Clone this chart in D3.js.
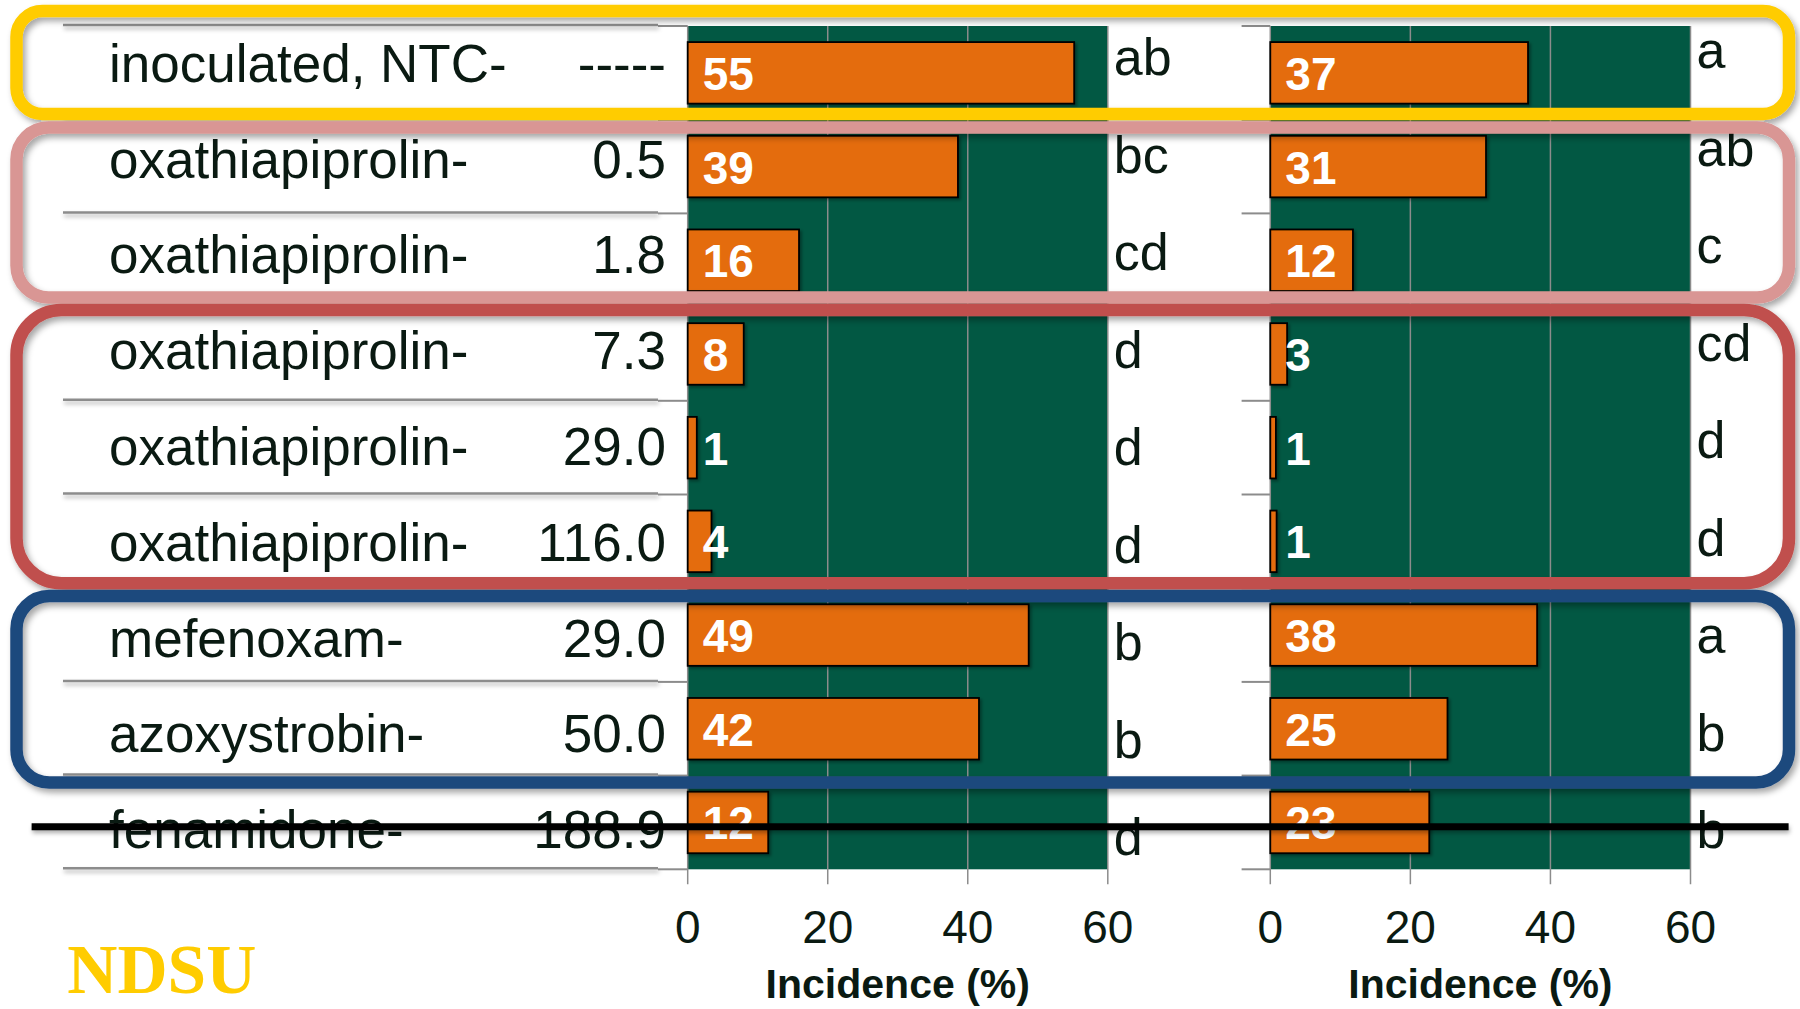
<!DOCTYPE html>
<html>
<head>
<meta charset="utf-8">
<script src="https://cdn.jsdelivr.net/npm/d3@7"></script>
<style>
  html, body { margin: 0; padding: 0; background: #ffffff; }
  svg { display: block; }
  text { font-family: "Liberation Sans", Arial, sans-serif; }
</style>
</head>
<body>
<script>
// ---------- data ----------
const categories = ["inoculated, NTC-", "oxathiapiprolin-", "oxathiapiprolin-", "oxathiapiprolin-",
  "oxathiapiprolin-", "oxathiapiprolin-", "mefenoxam-", "azoxystrobin-", "fenamidone-"];
const doses = ["-----", "0.5", "1.8", "7.3", "29.0", "116.0", "29.0", "50.0", "188.9"];

const incidenceA = [55.2, 38.6, 15.9, 8.0, 1.3, 3.4, 48.7, 41.6, 11.5];
const valueLabelsA = ["55", "39", "16", "8", "1", "4", "49", "42", "12"];
const lettersA = ["ab", "bc", "cd", "d", "d", "d", "b", "b", "d"];

const incidenceB = [36.8, 30.8, 11.8, 2.4, 0.8, 0.9, 38.1, 25.3, 22.7];
const valueLabelsB = ["37", "31", "12", "3", "1", "1", "38", "25", "23"];
const lettersB = ["a", "ab", "c", "cd", "d", "d", "a", "b", "b"];

const xTicks = [0, 20, 40, 60];
const axisTitle = "Incidence (%)";

// group boxes: first/last row index
const groups = [
  { first: 0, last: 0, color: "#FFCC00" },
  { first: 1, last: 2, color: "#D99694" },
  { first: 3, last: 5, color: "#C0504D" },
  { first: 6, last: 7, color: "#1F497D" }
];

// ---------- layout ----------
const W = 1800, H = 1009;
const plotTop = 26, plotBottom = 869.3;
const GREEN = "#025843", ORANGE = "#E46C0A", GRID = "#8c8c8c", INK = "#0a1a12";

const svg = d3.select("body").append("svg").attr("width", W).attr("height", H);
const defs = svg.append("defs");
function shadowFilter(id, dx, dy, sd, op) {
  const f = defs.append("filter").attr("id", id).attr("filterUnits", "userSpaceOnUse")
    .attr("x", 0).attr("y", 0).attr("width", W).attr("height", H);
  f.append("feDropShadow").attr("dx", dx).attr("dy", dy).attr("stdDeviation", sd)
    .attr("flood-color", "#000").attr("flood-opacity", op);
}
shadowFilter("boxShadow", 3, 4, 3, 0.35);
shadowFilter("lineShadow", 1, 3, 2, 0.3);
shadowFilter("barShadow", 2, 2, 1.5, 0.35);

svg.append("rect").attr("width", W).attr("height", H).attr("fill", "#fff");

const idx = d3.range(categories.length);
const y = d3.scaleBand().domain(idx).range([plotTop, plotBottom]).paddingInner(0.343).paddingOuter(0.1715);
const rowStep = y.step();
const rowEdge = i => plotTop + i * rowStep;           // boundary positions
const labelY = d3.scalePoint().domain(idx).range([81.7, 848.3]);   // text baselines
const letterYA = d3.scalePoint().domain(idx).range([75, 855]);
const letterYB = d3.scalePoint().domain(idx).range([68.3, 848.3]);

const xA = d3.scaleLinear().domain([0, 60]).range([687.7, 1107.8]);
const xB = d3.scaleLinear().domain([0, 60]).range([1270.3, 1690.5]);

const panels = [
  { x: xA, vals: incidenceA, vlabels: valueLabelsA, letters: lettersA, letterY: letterYA, tickLeft: 658 },
  { x: xB, vals: incidenceB, vlabels: valueLabelsB, letters: lettersB, letterY: letterYB, tickLeft: 1241.6 }
];

// ruled lines in label area (row boundaries)
const ruled = svg.append("g").attr("filter", "url(#lineShadow)");
d3.range(categories.length + 1).forEach(i => {
  ruled.append("line").attr("x1", 63).attr("x2", 658)
    .attr("y1", rowEdge(i) - 1).attr("y2", rowEdge(i) - 1)
    .attr("stroke", GRID).attr("stroke-width", 2.5);
});

panels.forEach(p => {
  const g = svg.append("g");
  // plot background
  g.append("rect").attr("x", p.x(0)).attr("y", plotTop)
    .attr("width", p.x(60) - p.x(0)).attr("height", plotBottom - plotTop).attr("fill", GREEN);
  // gridlines + tick marks
  g.selectAll("line.grid").data(xTicks).join("line")
    .attr("x1", d => p.x(d)).attr("x2", d => p.x(d))
    .attr("y1", plotTop).attr("y2", plotBottom + 15)
    .attr("stroke", GRID).attr("stroke-width", 1.5);
  // category ticks
  g.selectAll("line.ytick").data(d3.range(categories.length + 1)).join("line")
    .attr("x1", p.tickLeft).attr("x2", p.x(0))
    .attr("y1", d => rowEdge(d)).attr("y2", d => rowEdge(d))
    .attr("stroke", GRID).attr("stroke-width", 2);
  // bars
  g.append("g").attr("filter", "url(#barShadow)").selectAll("rect").data(p.vals).join("rect")
    .attr("x", p.x(0)).attr("y", (d, i) => y(i))
    .attr("width", d => p.x(d) - p.x(0)).attr("height", y.bandwidth())
    .attr("fill", ORANGE).attr("stroke", "#000").attr("stroke-width", 1.8);
  // value labels
  g.selectAll("text.val").data(p.vlabels).join("text")
    .attr("x", p.x(0) + 15).attr("y", (d, i) => y(i) + y.bandwidth() / 2 + 17)
    .attr("fill", "#fff").attr("font-weight", "bold").attr("font-size", 46)
    .text(d => d);
  // letters
  g.selectAll("text.let").data(p.letters).join("text")
    .attr("x", p.x(60) + 6).attr("y", (d, i) => p.letterY(i))
    .attr("fill", INK).attr("font-size", 52)
    .text(d => d);
  // tick labels
  g.selectAll("text.tl").data(xTicks).join("text")
    .attr("x", d => p.x(d)).attr("y", 942.7).attr("text-anchor", "middle")
    .attr("fill", INK).attr("font-size", 46).text(d => d);
  // axis title
  g.append("text").attr("x", (p.x(0) + p.x(60)) / 2).attr("y", 998).attr("text-anchor", "middle")
    .attr("fill", INK).attr("font-weight", "bold").attr("font-size", 41).text(axisTitle);
});

// category labels and doses
svg.append("g").selectAll("text").data(categories).join("text")
  .attr("x", 109).attr("y", (d, i) => labelY(i))
  .attr("fill", INK).attr("font-size", 53).text(d => d);
svg.append("g").selectAll("text").data(doses).join("text")
  .attr("x", 666).attr("y", (d, i) => labelY(i)).attr("text-anchor", "end")
  .attr("fill", INK).attr("font-size", 53).text(d => d);

// group boxes (annotation)
const boxTopOff = [-15, 7.8, 3, 7.8];
const boxBotOff = [-5.7, -9.6, -5, 7];
const boxR = [26, 32, 45, 33];
const boxes = svg.append("g").attr("filter", "url(#boxShadow)");
groups.forEach((gp, k) => {
  const top = rowEdge(gp.first) + boxTopOff[k];
  const bot = rowEdge(gp.last + 1) + boxBotOff[k];
  boxes.append("rect").attr("x", 16.5).attr("y", top)
    .attr("width", 1789 - 16.5).attr("height", bot - top)
    .attr("rx", boxR[k]).attr("ry", boxR[k])
    .attr("fill", "none").attr("stroke", gp.color).attr("stroke-width", 12.5);
});

// strike-through line over the last row
const last = categories.length - 1;
const strikeY = y(last) + y.bandwidth() * 0.57;
svg.append("rect").attr("filter", "url(#lineShadow)")
  .attr("x", 31.6).attr("y", strikeY - 3.5)
  .attr("width", 1788.6 - 31.6).attr("height", 7)
  .attr("fill", "#000");

// NDSU wordmark
svg.append("text").attr("x", 67.3).attr("y", 993)
  .attr("font-size", 70).attr("fill", "#FFCC00").attr("font-weight", "bold")
  .attr("textLength", 189).attr("lengthAdjust", "spacingAndGlyphs")
  .style("font-family", "'Liberation Serif', 'Times New Roman', serif")
  .text("NDSU");
</script>
</body>
</html>
